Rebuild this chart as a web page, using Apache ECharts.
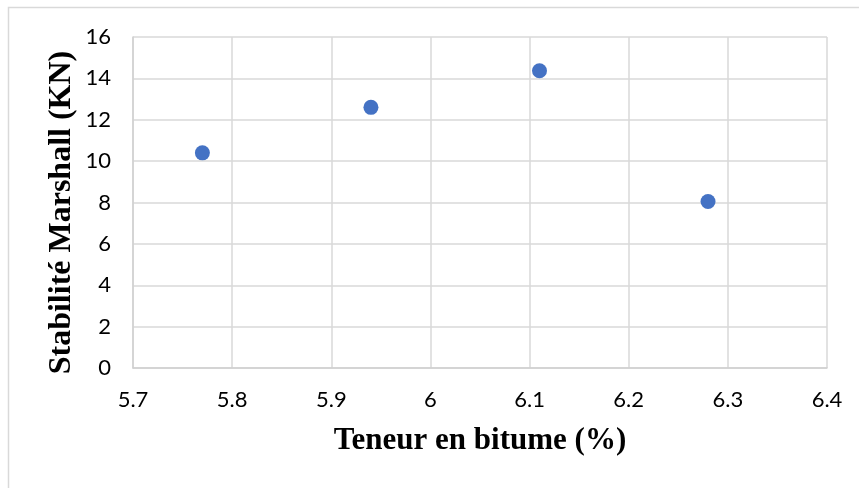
<!DOCTYPE html>
<html>
<head>
<meta charset="utf-8">
<script src="https://cdn.jsdelivr.net/npm/echarts@6/dist/echarts.min.js"></script>
<style>
  html, body { margin: 0; padding: 0; background: #ffffff; }
  #chart { width: 859px; height: 488px; }
</style>
</head>
<body>
<div id="chart"></div>
<script>
// Bitumen content (%) against Marshall stability (kN)
const bitumenContent = [5.77, 5.94, 6.11, 6.28];
const marshallStability = [10.4, 12.6, 14.37, 8.05];
const xTicks = { min: 5.7, max: 6.4, step: 0.1 };
const yTicks = { min: 0, max: 16, step: 2 };

const points = bitumenContent.map((x, i) => [x, marshallStability[i]]);

const labelFont = 'Lato, "Open Sans", sans-serif';
const titleFont = '"Liberation Serif", "Times New Roman", serif';

const chart = echarts.init(document.getElementById('chart'), null, { renderer: 'canvas' });
chart.setOption({
  animation: false,
  backgroundColor: '#ffffff',
  graphic: [{
    type: 'rect',
    shape: { x: 8.5, y: 7.5, width: 900, height: 600 },
    style: { fill: 'none', stroke: '#d9d9d9', lineWidth: 1.5 },
    silent: true
  }],
  grid: { left: 133, top: 37, right: 32, bottom: 120, containLabel: false },
  xAxis: {
    type: 'value',
    min: xTicks.min, max: xTicks.max, interval: xTicks.step,
    name: 'Teneur en bitume (%)',
    nameLocation: 'middle',
    nameGap: 57,
    nameMoveOverlap: false,
    nameTextStyle: { fontFamily: titleFont, fontWeight: 'bold', fontSize: 31, color: '#000' },
    axisLine: { show: true, lineStyle: { color: '#d0d0d0', width: 1.5 } },
    axisTick: { show: false },
    axisLabel: {
      margin: 21, fontFamily: labelFont, fontSize: 22, color: '#000',
      formatter: v => String(Math.round(v * 10) / 10)
    },
    splitLine: { show: true, lineStyle: { color: '#d9d9d9', width: 1.5 } }
  },
  yAxis: {
    type: 'value',
    min: yTicks.min, max: yTicks.max, interval: yTicks.step,
    name: 'Stabilité Marshall (KN)',
    nameLocation: 'middle',
    nameGap: 55,
    nameMoveOverlap: false,
    nameRotate: 90,
    nameTextStyle: {
      fontFamily: titleFont, fontWeight: 'bold', fontSize: 32, color: '#000',
      padding: [0, 20, 0, 0]
    },
    axisLine: { show: true, lineStyle: { color: '#d0d0d0', width: 1.5 } },
    axisTick: { show: false },
    axisLabel: { margin: 22, fontFamily: labelFont, fontSize: 22, color: '#000' },
    splitLine: { show: true, lineStyle: { color: '#d9d9d9', width: 1.5 } }
  },
  series: [{
    type: 'scatter',
    data: points,
    symbol: 'circle',
    symbolSize: 15,
    itemStyle: { color: '#4472c4', opacity: 1 }
  }]
});
</script>
</body>
</html>
